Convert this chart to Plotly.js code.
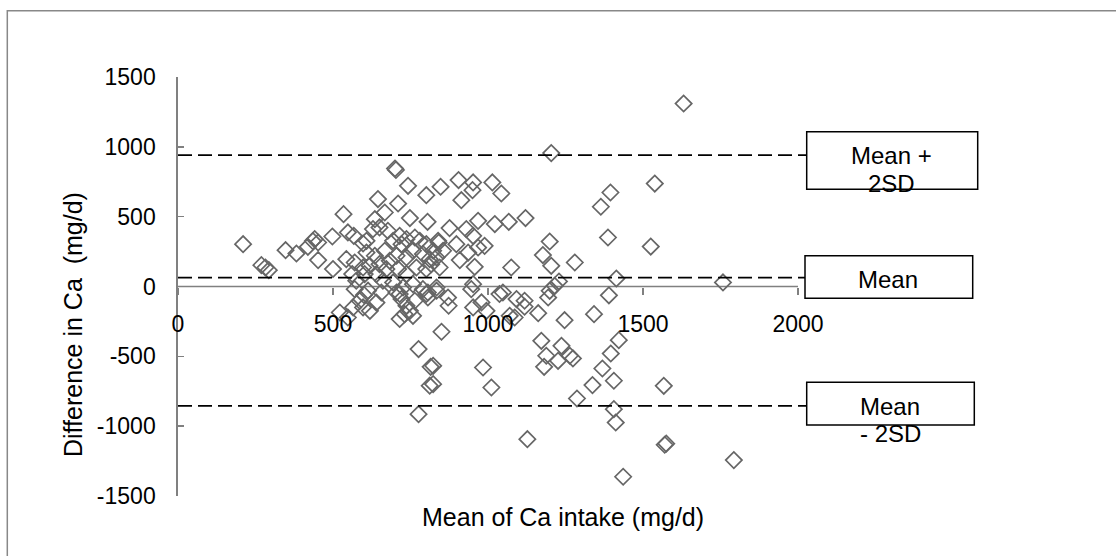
<!DOCTYPE html>
<html>
<head>
<meta charset="utf-8">
<script src="https://cdn.plot.ly/plotly-3.0.1.min.js"></script>
<style>html,body{margin:0;padding:0;background:#fff;}#chart{width:1116px;height:556px;}</style>
</head>
<body>
<div id="chart"></div>
<script>
// ---- data ----
var meanIntake = [
 210,269,282,293,347,382,419,441,452,435,452,498,500,534,548,567,597,543,570,597,562,575,
 522,548,586,597,565,600,619,640,715,748,737,764,801,834,873,850,776,823,815,823,812,776,
 984,1011,952,979,995,1037,1070,1092,946,
 700,703,742,645,710,801,847,905,914,952,950,1014,1043,667,635,748,805,876,968,1022,1067,
 930,952,898,841,989,909,957,1075,952,1048,936,968,855,
 608,629,650,677,608,635,667,694,715,721,737,764,780,801,823,839,618,650,683,705,737,758,
 790,812,834,602,640,672,710,737,769,801,817,844,661,694,726,758,790,806,834,715,871,
 570,613,656,705,721,731,758,806,
 1631,1204,1538,1395,1364,1121,1387,1525,1199,1177,1204,1280,1229,1215,1199,1414,1758,1390,1194,1118,
 1118,1162,1086,1247,1342,1172,1237,1188,1226,1264,1274,1181,1422,1396,1369,1406,1337,1287,1567,
 1406,1412,1127,1570,1575,1793,1436
];
var caDifference = [
 303,153,136,117,260,236,284,339,315,325,189,358,125,518,387,363,308,196,172,136,89,41,
 -186,-222,-102,-150,-150,-60,-174,-115,-233,-174,-138,-102,-54,-30,-138,-324,-448,-568,-575,-699,-710,-914,
 -580,-723,-150,-114,-174,-54,-210,-90,-19,
 845,835,721,626,594,654,714,762,618,745,690,745,666,530,482,490,463,418,470,447,463,
 411,363,303,315,291,189,141,136,17,-43,243,279,256,
 327,411,423,399,243,220,256,327,363,303,339,351,327,303,256,327,148,160,184,220,208,256,
 232,196,208,89,89,125,125,89,136,125,160,136,41,29,-7,17,-19,-43,-7,-54,-79,
 -19,-30,-43,-43,-90,-198,-210,-79,
 1310,955,737,673,571,490,351,286,322,225,148,172,36,5,-31,57,29,-63,-79,-102,
 -145,-191,-222,-241,-198,-389,-425,-496,-532,-496,-515,-575,-384,-480,-587,-675,-706,-802,-711,
 -878,-974,-1093,-1133,-1125,-1243,-1362
];
var limitValues = [941, 63, -854];          // mean + 2SD, mean, mean - 2SD
var limitLabels = [["Mean +", "2SD"], ["Mean"], ["Mean", "- 2SD"]];
var xTicks = [0, 500, 1000, 1500, 2000];
var yTicks = [-1500, -1000, -500, 0, 500, 1000, 1500];
var xTitle = "Mean of Ca intake (mg/d)";
var yTitle = "Difference in Ca\u00a0 (mg/d)";

// ---- layout geometry ----
var W = 1116, H = 556, ML = 178, MR = 310, MT = 77, MB = 60;
var PW = W - ML - MR, PH = H - MT - MB;
var XMAX = xTicks[xTicks.length - 1];
function px2paperX(px) { return (px - ML) / PW; }
function py2paperY(py) { return (H - MB - py) / PH; }
var FONT = '"Liberation Sans", Arial, Helvetica, sans-serif';
var AXC = '#808080';

var traces = [{
  type: 'scatter', mode: 'markers',
  x: meanIntake, y: caDifference,
  marker: {symbol: 'diamond-open', size: 12.5, color: '#666666', line: {width: 1.7, color: '#666666'}},
  hoverinfo: 'x+y', showlegend: false
}];

var shapes = [
  // outer chart frame
  {type: 'rect', xref: 'paper', yref: 'paper', x0: px2paperX(7.3), x1: px2paperX(1140), y0: py2paperY(10.7), y1: py2paperY(580),
   line: {color: '#888888', width: 1.5}, fillcolor: 'rgba(0,0,0,0)', layer: 'below'},
  // horizontal axis line at y = 0
  {type: 'line', xref: 'x', yref: 'y', x0: 0, x1: XMAX, y0: 0, y1: 0, line: {color: AXC, width: 1.7}, layer: 'below'}
];
limitValues.forEach(function (v) {
  shapes.push({type: 'line', xref: 'paper', yref: 'y', x0: 0, x1: 1, y0: v, y1: v,
    line: {color: '#000', width: 1.8, dash: '14px,6px'}, layer: 'above'});
});
// label boxes
var boxes = [[806.7, 977.7, 131.7, 189.3], [805, 972.7, 255.7, 298.3], [806.7, 974.3, 382.3, 425]];
boxes.forEach(function (b) {
  shapes.push({type: 'rect', xref: 'paper', yref: 'paper', x0: px2paperX(b[0]), x1: px2paperX(b[1]),
    y0: py2paperY(b[3]), y1: py2paperY(b[2]), line: {color: '#000', width: 1.5}, fillcolor: '#fff', layer: 'above'});
});

var labelPos = [[[891.7, 155], [891.7, 183.3]], [[888, 279.3]], [[890, 406], [890, 433.3]]];
var annotations = [];
limitLabels.forEach(function (lines, i) {
  lines.forEach(function (t, j) {
    annotations.push({xref: 'paper', yref: 'paper', x: px2paperX(labelPos[i][j][0]), y: py2paperY(labelPos[i][j][1]),
      xanchor: 'center', yanchor: 'middle', showarrow: false, text: t, font: {family: FONT, size: 24, color: '#000'}});
  });
});
annotations.push({xref: 'paper', yref: 'paper', x: px2paperX(563), y: py2paperY(516.5), xanchor: 'center', yanchor: 'middle',
  showarrow: false, text: xTitle, font: {family: FONT, size: 25, color: '#000'}});
annotations.push({xref: 'paper', yref: 'paper', x: px2paperX(73), y: py2paperY(325), xanchor: 'center', yanchor: 'middle',
  showarrow: false, textangle: -90, text: yTitle, font: {family: FONT, size: 25, color: '#000'}});

var layout = {
  width: W, height: H,
  margin: {l: ML, r: MR, t: MT, b: MB, pad: 0},
  paper_bgcolor: '#fff', plot_bgcolor: 'rgba(0,0,0,0)',
  font: {family: FONT, color: '#000'},
  showlegend: false,
  xaxis: {
    range: [0, XMAX * PW / (XMAX * 0.31)], anchor: 'free', position: 0.5,
    showline: false, showgrid: false, zeroline: false,
    ticks: 'outside', ticklen: 7, tickwidth: 1.5, tickcolor: AXC,
    tickmode: 'array', tickvals: xTicks, ticktext: xTicks.map(String),
    tickfont: {family: FONT, size: 23, color: '#000'}, ticklabelstandoff: 10
  },
  yaxis: {
    range: [yTicks[0], yTicks[yTicks.length - 1]],
    showline: true, linecolor: AXC, linewidth: 1.7, showgrid: false, zeroline: false,
    ticks: 'inside', ticklen: 6, tickwidth: 1.5, tickcolor: AXC,
    tickmode: 'array', tickvals: yTicks, ticktext: yTicks.map(String),
    tickfont: {family: FONT, size: 23, color: '#000'}, ticklabelstandoff: 16
  },
  shapes: shapes,
  annotations: annotations
};

Plotly.newPlot('chart', traces, layout, {displayModeBar: false, staticPlot: true});
</script>
</body>
</html>
